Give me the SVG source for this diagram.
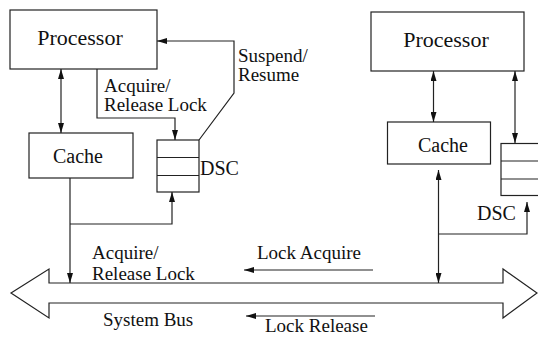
<svg xmlns="http://www.w3.org/2000/svg" width="538" height="339" viewBox="0 0 538 339">
  <style>
    .box { fill: #fff; stroke: #222; stroke-width: 1.2; }
    .ln { fill: none; stroke: #222; stroke-width: 1.2; }
    text { font-family: "Liberation Serif", "Times New Roman", serif; fill: #111; }
    .big { font-size: 22px; }
    .mid { font-size: 20px; }
    .lbl { font-size: 19px; }
  </style>
  <defs>
    <marker id="ah" viewBox="0 0 10 6" refX="10" refY="3" markerWidth="10" markerHeight="6" markerUnits="userSpaceOnUse" orient="auto-start-reverse">
      <path d="M0,0 L10,3 L0,6 z" fill="#111"/>
    </marker>
  </defs>
  <rect width="538" height="339" fill="#fff"/>

  <!-- System bus (double-headed block arrow) -->
  <g id="bus">
    <polygon class="box" points="11,293 49,269 49,283 503,283 503,269 537,293 503,318 503,303 49,303 49,318"/>
    <text class="lbl" x="103" y="326">System Bus</text>
  </g>

  <!-- Left node set -->
  <g id="processor-left">
    <rect class="box" x="10" y="10" width="147" height="59"/>
    <text class="big" x="80" y="45" text-anchor="middle">Processor</text>
  </g>
  <g id="cache-left">
    <rect class="box" x="29" y="133" width="104" height="45"/>
    <text class="mid" x="78" y="163" text-anchor="middle">Cache</text>
  </g>
  <g id="dsc-left">
    <rect class="box" x="157" y="140" width="42" height="52"/>
    <line class="ln" x1="157" y1="157.5" x2="199" y2="157.5"/>
    <line class="ln" x1="157" y1="175.5" x2="199" y2="175.5"/>
    <text class="mid" x="200" y="175">DSC</text>
  </g>

  <!-- Right node set -->
  <g id="processor-right">
    <rect class="box" x="371" y="12" width="153" height="59"/>
    <text class="big" x="446" y="47" text-anchor="middle">Processor</text>
  </g>
  <g id="cache-right">
    <rect class="box" x="387.5" y="122" width="103" height="42"/>
    <text class="mid" x="443" y="152" text-anchor="middle">Cache</text>
  </g>
  <g id="dsc-right">
    <rect class="box" x="501" y="143.5" width="42" height="52"/>
    <line class="ln" x1="501" y1="161" x2="543" y2="161"/>
    <line class="ln" x1="501" y1="179" x2="543" y2="179"/>
    <text class="mid" x="477" y="220">DSC</text>
  </g>

  <!-- Connectors -->
  <g id="connectors">
    <!-- left side -->
    <line class="ln" x1="61" y1="69" x2="61" y2="133" marker-start="url(#ah)" marker-end="url(#ah)"/>
    <polyline class="ln" points="97,69 97,118 175,118 175,140" marker-end="url(#ah)"/>
    <polyline class="ln" points="199,140 234,93 234,41 157,41" marker-end="url(#ah)"/>
    <line class="ln" x1="70" y1="178" x2="70" y2="283" marker-end="url(#ah)"/>
    <polyline class="ln" points="70,224 172,224 172,192" marker-end="url(#ah)"/>

    <!-- right side -->
    <line class="ln" x1="433.5" y1="71" x2="433.5" y2="122" marker-start="url(#ah)" marker-end="url(#ah)"/>
    <line class="ln" x1="515" y1="71" x2="515" y2="143" marker-start="url(#ah)" marker-end="url(#ah)"/>
    <line class="ln" x1="438.5" y1="170" x2="438.5" y2="283" marker-start="url(#ah)" marker-end="url(#ah)"/>
    <polyline class="ln" points="438.5,234 527,234 527,202" marker-end="url(#ah)"/>

    <!-- bus traffic -->
    <line class="ln" x1="373" y1="270" x2="244" y2="270" marker-end="url(#ah)"/>
    <line class="ln" x1="375" y1="316" x2="246" y2="316" marker-end="url(#ah)"/>
  </g>

  <!-- Connector labels -->
  <g id="labels" class="lbl">
    <text class="lbl" x="104" y="92">Acquire/</text>
    <text class="lbl" x="104" y="111">Release Lock</text>
    <text class="lbl" x="238" y="62">Suspend/</text>
    <text class="lbl" x="238" y="81">Resume</text>
    <text class="lbl" x="92" y="259">Acquire/</text>
    <text class="lbl" x="92" y="280">Release Lock</text>
    <text class="lbl" x="257" y="259">Lock Acquire</text>
    <text class="lbl" x="265" y="332">Lock Release</text>
  </g>
</svg>
